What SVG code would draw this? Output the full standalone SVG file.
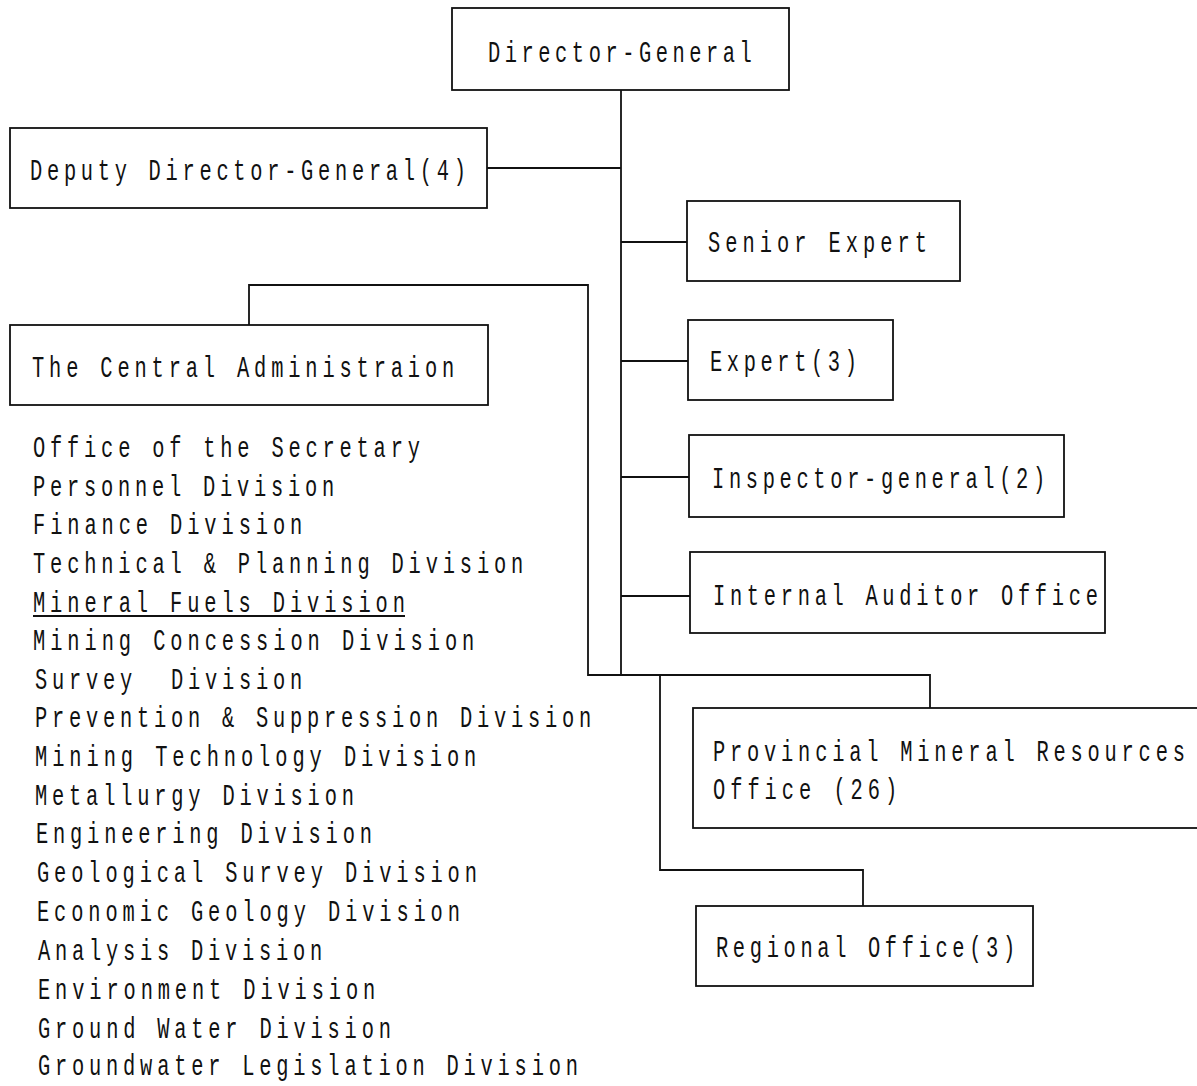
<svg xmlns="http://www.w3.org/2000/svg" width="1197" height="1086" viewBox="0 0 1197 1086">
<style>
.box{fill:#fff;stroke:#111;stroke-width:1.8}
.ln{fill:none;stroke:#111;stroke-width:1.8}
text{font-family:"Liberation Mono","DejaVu Sans Mono",monospace;font-size:30px;fill:#111}
</style>
<rect width="1197" height="1086" fill="#fff"/>
<g id="connectors">
<path class="ln" d="M621 90 V675"/>
<path class="ln" d="M487 168 H621"/>
<path class="ln" d="M621 242 H687"/>
<path class="ln" d="M621 361 H688"/>
<path class="ln" d="M621 477 H689"/>
<path class="ln" d="M621 596 H690"/>
<path class="ln" d="M249 325 V285 H588 V675 H930 V708"/>
<path class="ln" d="M660 675 V870 H863 V906"/>
</g>
<g id="director-general">
<rect class="box" x="452" y="8" width="337" height="82"/>
<text transform="translate(488,62) scale(0.68,1)" textLength="388" lengthAdjust="spacing">Director-General</text>
</g>
<g id="deputy">
<rect class="box" x="10" y="128" width="477" height="80"/>
<text transform="translate(30,180) scale(0.68,1)" textLength="641" lengthAdjust="spacing">Deputy Director-General(4)</text>
</g>
<g id="senior-expert">
<rect class="box" x="687" y="201" width="273" height="80"/>
<text transform="translate(708,252) scale(0.68,1)" textLength="322" lengthAdjust="spacing">Senior Expert</text>
</g>
<g id="expert">
<rect class="box" x="688" y="320" width="205" height="80"/>
<text transform="translate(710,371) scale(0.68,1)" textLength="216" lengthAdjust="spacing">Expert(3)</text>
</g>
<g id="inspector">
<rect class="box" x="689" y="435" width="375" height="82"/>
<text transform="translate(712,488) scale(0.68,1)" textLength="490" lengthAdjust="spacing">Inspector-general(2)</text>
</g>
<g id="auditor">
<rect class="box" x="690" y="552" width="415" height="81"/>
<text transform="translate(713,605) scale(0.68,1)" textLength="566" lengthAdjust="spacing">Internal Auditor Office</text>
</g>
<g id="provincial">
<rect class="box" x="693" y="708" width="520" height="120"/>
<text transform="translate(713,761) scale(0.68,1)" textLength="694" lengthAdjust="spacing">Provincial Mineral Resources</text>
<text transform="translate(713,799) scale(0.68,1)" textLength="271" lengthAdjust="spacing">Office (26)</text>
</g>
<g id="regional">
<rect class="box" x="696" y="906" width="337" height="80"/>
<text transform="translate(716,957) scale(0.68,1)" textLength="440" lengthAdjust="spacing">Regional Office(3)</text>
</g>
<g id="central-admin">
<rect class="box" x="10" y="325" width="478" height="80"/>
<text transform="translate(32,377) scale(0.68,1)" textLength="621" lengthAdjust="spacing">The Central Administraion</text>
</g>
<g id="divisions">
<text transform="translate(33,457) scale(0.68,1)" textLength="569" lengthAdjust="spacing">Office of the Secretary</text>
<text transform="translate(33,496) scale(0.68,1)" textLength="443" lengthAdjust="spacing">Personnel Division</text>
<text transform="translate(33,534) scale(0.68,1)" textLength="396" lengthAdjust="spacing">Finance Division</text>
<text transform="translate(33,573) scale(0.68,1)" textLength="721" lengthAdjust="spacing">Technical &amp; Planning Division</text>
<text transform="translate(33,612) scale(0.68,1)" textLength="547" lengthAdjust="spacing">Mineral Fuels Division</text>
<path class="ln" d="M33 616 H405" stroke-width="1.5"/>
<text transform="translate(33,650) scale(0.68,1)" textLength="649" lengthAdjust="spacing">Mining Concession Division</text>
<text transform="translate(35,689) scale(0.68,1)" textLength="393" lengthAdjust="spacing" xml:space="preserve">Survey  Division</text>
<text transform="translate(35,727) scale(0.68,1)" textLength="818" lengthAdjust="spacing">Prevention &amp; Suppression Division</text>
<text transform="translate(35,766) scale(0.68,1)" textLength="649" lengthAdjust="spacing">Mining Technology Division</text>
<text transform="translate(35,805) scale(0.68,1)" textLength="469" lengthAdjust="spacing">Metallurgy Division</text>
<text transform="translate(36,843) scale(0.68,1)" textLength="494" lengthAdjust="spacing">Engineering Division</text>
<text transform="translate(37,882) scale(0.68,1)" textLength="647" lengthAdjust="spacing">Geological Survey Division</text>
<text transform="translate(37,921) scale(0.68,1)" textLength="622" lengthAdjust="spacing">Economic Geology Division</text>
<text transform="translate(38,960) scale(0.68,1)" textLength="418" lengthAdjust="spacing">Analysis Division</text>
<text transform="translate(38,999) scale(0.68,1)" textLength="496" lengthAdjust="spacing">Environment Division</text>
<text transform="translate(38,1038) scale(0.68,1)" textLength="519" lengthAdjust="spacing">Ground Water Division</text>
<text transform="translate(38,1075) scale(0.68,1)" textLength="794" lengthAdjust="spacing">Groundwater Legislation Division</text>
</g>
</svg>
